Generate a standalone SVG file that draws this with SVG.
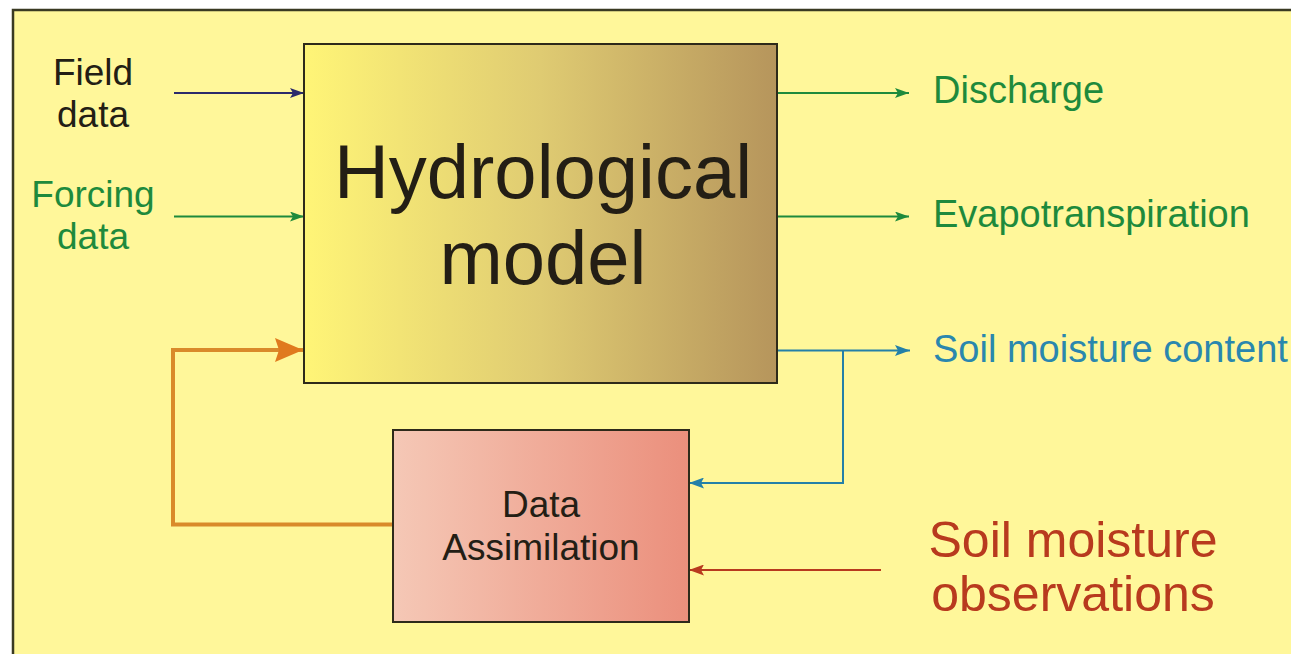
<svg xmlns="http://www.w3.org/2000/svg" width="1291" height="654" viewBox="0 0 1291 654">
<defs>
<linearGradient id="gHydro" x1="0" y1="0" x2="1" y2="0">
<stop offset="0" stop-color="#FFF577"/>
<stop offset="0.5" stop-color="#DFCB72"/>
<stop offset="1" stop-color="#B6955C"/>
</linearGradient>
<linearGradient id="gDA" x1="0" y1="0" x2="1" y2="0">
<stop offset="0" stop-color="#F5C8B6"/>
<stop offset="1" stop-color="#EB8F7C"/>
</linearGradient>
<marker id="aNavy" markerWidth="14" markerHeight="10" refX="14" refY="5" orient="auto" markerUnits="userSpaceOnUse"><path d="M0,0 L14,5 L0,10 L3,5 Z" fill="#2B2A6B"/></marker>
<marker id="aGreen" markerWidth="14" markerHeight="10" refX="14" refY="5" orient="auto" markerUnits="userSpaceOnUse"><path d="M0,0 L14,5 L0,10 L3,5 Z" fill="#1E8A3C"/></marker>
<marker id="aBlue" markerWidth="15" markerHeight="11" refX="15" refY="5.5" orient="auto" markerUnits="userSpaceOnUse"><path d="M0,0 L15,5.5 L0,11 L3,5.5 Z" fill="#2480A8"/></marker>
<marker id="aRed" markerWidth="15" markerHeight="11" refX="15" refY="5.5" orient="auto" markerUnits="userSpaceOnUse"><path d="M0,0 L15,5.5 L0,11 L3,5.5 Z" fill="#B83A1E"/></marker>
<marker id="aOrange" markerWidth="28" markerHeight="24" refX="28" refY="12" orient="auto" markerUnits="userSpaceOnUse"><path d="M0,0 L28,12 L0,24 L4,12 Z" fill="#E07A1E"/></marker>
</defs>
<style>
text { font-family: "Liberation Sans", Arial, sans-serif; }
.lbl { font-size: 37px; }
.out { font-size: 38px; }
.green { fill: #1E8A3C; }
.blue { fill: #2A87AE; }
.dark { fill: #231E15; }
.box { stroke: #2E2A1A; stroke-width: 2; }
.conn { fill: none; }
</style>
<rect x="0" y="0" width="1291" height="654" fill="#FFFFFF"/>
<rect x="13" y="10" width="1300" height="660" fill="#FFF79A" stroke="#3A3A22" stroke-width="2.5"/>

<g id="connectors">
<line class="conn" x1="174" y1="93" x2="304" y2="93" stroke="#2B2A6B" stroke-width="1.8" marker-end="url(#aNavy)"/>
<line class="conn" x1="174" y1="216.5" x2="304" y2="216.5" stroke="#1E8A3C" stroke-width="1.8" marker-end="url(#aGreen)"/>
<line class="conn" x1="777" y1="93" x2="909" y2="93" stroke="#1E8A3C" stroke-width="1.8" marker-end="url(#aGreen)"/>
<line class="conn" x1="777" y1="216.5" x2="909" y2="216.5" stroke="#1E8A3C" stroke-width="1.8" marker-end="url(#aGreen)"/>
<line class="conn" x1="777" y1="350.5" x2="910" y2="350.5" stroke="#2480A8" stroke-width="2" marker-end="url(#aBlue)"/>
<polyline class="conn" points="843,350.5 843,483 689,483" stroke="#2480A8" stroke-width="2" marker-end="url(#aBlue)"/>
<line class="conn" x1="881" y1="570" x2="689" y2="570" stroke="#B83A1E" stroke-width="2" marker-end="url(#aRed)"/>
<polyline class="conn" points="393,524.5 173,524.5 173,350 303,350" stroke="#D98A2A" stroke-width="4" marker-end="url(#aOrange)"/>
</g>

<g id="field-data">
<text class="lbl dark" x="93" y="85" text-anchor="middle">Field</text>
<text class="lbl dark" x="93" y="127" text-anchor="middle">data</text>
</g>
<g id="forcing-data">
<text class="lbl green" x="93" y="207" text-anchor="middle">Forcing</text>
<text class="lbl green" x="93" y="249" text-anchor="middle">data</text>
</g>

<g id="hydrological-model">
<rect class="box" x="304" y="44" width="473" height="339" fill="url(#gHydro)"/>
<text class="dark" x="543" y="198" font-size="76" text-anchor="middle">Hydrological</text>
<text class="dark" x="543" y="284" font-size="76" text-anchor="middle">model</text>
</g>

<g id="discharge">
<text class="out green" x="933" y="103">Discharge</text>
</g>
<g id="evapotranspiration">
<text class="out green" x="933" y="227">Evapotranspiration</text>
</g>
<g id="soil-moisture-content">
<text class="out blue" x="933" y="362">Soil moisture content</text>
</g>

<g id="data-assimilation">
<rect class="box" x="393" y="430" width="296" height="192" fill="url(#gDA)"/>
<text class="dark" x="541" y="517" font-size="37" text-anchor="middle">Data</text>
<text class="dark" x="541" y="560" font-size="37" text-anchor="middle">Assimilation</text>
</g>

<g id="soil-moisture-observations">
<text x="1073" y="557" font-size="50" fill="#B83A1E" text-anchor="middle">Soil moisture</text>
<text x="1073" y="611" font-size="50" fill="#B83A1E" text-anchor="middle">observations</text>
</g>
</svg>
